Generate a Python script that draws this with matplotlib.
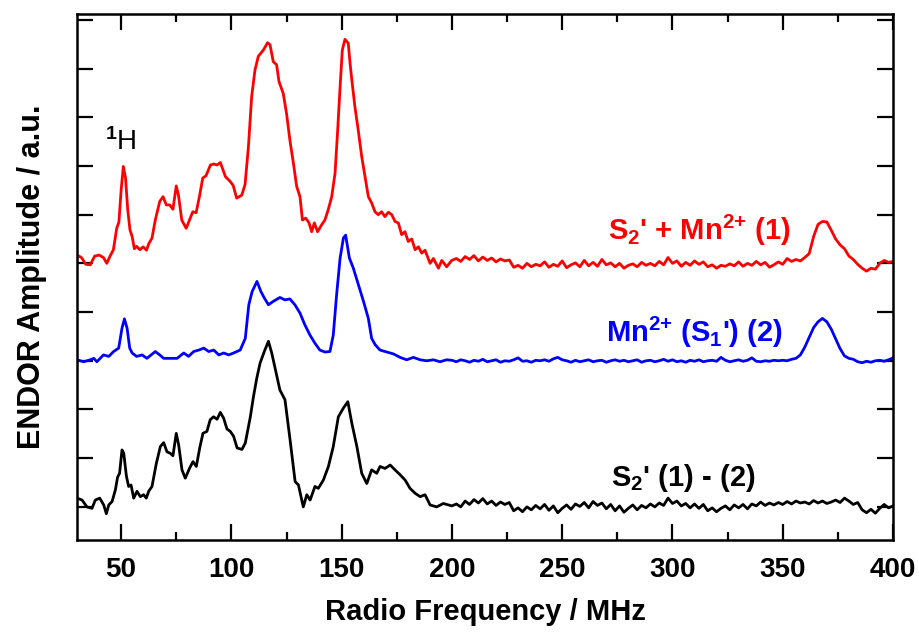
import matplotlib
matplotlib.use("Agg")
import matplotlib.pyplot as plt
from matplotlib.ticker import MultipleLocator

plt.rcParams['font.family'] = ['Liberation Sans', 'DejaVu Sans']
plt.rcParams['mathtext.fontset'] = 'custom'
plt.rcParams['mathtext.rm'] = 'Liberation Sans:bold'
plt.rcParams['mathtext.bf'] = 'Liberation Sans:bold'
plt.rcParams['mathtext.it'] = 'Liberation Sans:bold'

# ---------------- data ----------------
red_f = [30, 32, 34, 36, 38, 40, 42, 43.5, 45, 46.5, 48, 49, 50, 51, 52, 53, 54, 55, 56, 57,
         58.5, 60, 61.5, 62.5, 64, 65.5, 67.5, 69, 70.5, 72, 73.5, 75, 76, 77.5, 79.5, 81, 82.5,
         84, 85.5, 87, 88.5, 90.5, 92, 93.5, 95, 97.3, 99.3, 100.8, 102.4, 104.7, 106.2, 107.7,
         109.2, 110.7, 112.2, 114.5, 116.4, 117.5, 119, 120.5, 121.6, 123.5, 125, 126.5, 128.1,
         129.6, 131.1, 132.2, 133.7, 135.2, 136.4, 137.6, 139.1, 140.9, 142.4, 143.9, 145.5, 147,
         148.2, 149.3, 150.3, 151.5, 153, 153.8, 154.6, 156, 157.5, 159.1, 160.6, 162.1, 163.6,
         165.1, 166.6, 168.1, 169.6, 171.2, 172.7, 174.2, 175.7, 177.2, 178.7, 180.2, 181.8,
         183.3, 184.8, 186.3, 187.8, 190.1, 191.6, 193.9, 195.4, 197.6, 199.9,
         202, 204, 206, 208, 210, 212, 214, 216, 218, 220, 222, 224, 226, 228, 230, 232, 234, 236,
         238, 240, 242, 244, 246, 248, 250, 252, 254, 256, 258, 260, 262, 264, 266, 268, 270, 272,
         274, 276, 278, 280, 282, 284, 286, 288, 290, 292, 294, 296, 298, 300, 302, 304, 306, 308,
         310, 312, 314, 316, 318, 320, 322, 324, 326, 328, 330, 332, 334, 336, 338, 340, 342, 344,
         346, 348, 350, 352, 354, 356, 358, 360, 362, 364, 366, 368, 370, 372, 374, 376, 378, 380,
         382, 384, 386, 388, 390, 392, 394, 396, 398, 400]
red_y = [5.17, 5.12, 4.98, 4.97, 5.15, 5.17, 5.12, 5.00, 5.15, 5.28, 5.72, 5.85, 6.50, 6.99, 6.75,
         6.10, 5.69, 5.55, 5.30, 5.35, 5.28, 5.34, 5.27, 5.40, 5.52, 5.89, 6.27, 6.37, 6.20, 6.20,
         6.11, 6.59, 6.40, 5.89, 5.72, 5.89, 6.06, 6.04, 6.37, 6.75, 6.80, 7.02, 7.04, 7.02, 7.07,
         6.78, 6.69, 6.60, 6.34, 6.40, 6.62, 7.38, 8.43, 8.97, 9.25, 9.38, 9.53, 9.49, 9.14, 9.08,
         8.73, 8.49, 8.08, 7.54, 7.06, 6.58, 6.37, 5.89, 5.93, 5.83, 5.65, 5.83, 5.65, 5.79, 5.89,
         6.10, 6.37, 6.85, 7.74, 8.63, 9.38, 9.60, 9.52, 9.11, 8.77, 8.22, 7.74, 7.19, 6.78, 6.37,
         6.24, 6.06, 6.00, 6.06, 5.96, 6.05, 6.00, 5.86, 5.83, 5.59, 5.65, 5.45, 5.50, 5.28, 5.34,
         5.21, 5.27, 5.00, 5.10, 4.90, 5.06, 4.93, 5.06,
         5.10, 5.04, 5.14, 5.08, 5.16, 5.05, 5.13, 5.06, 5.11, 5.03, 5.09, 5.05, 5.07, 4.92, 4.96,
         4.90, 5.00, 4.93, 4.98, 4.95, 5.03, 4.92, 4.98, 4.94, 5.05, 4.91, 4.97, 5.01, 4.93, 5.06,
         4.95, 5.02, 4.94, 5.08, 4.97, 5.01, 4.93, 5.00, 4.90, 4.96, 4.99, 4.93, 5.02, 4.96, 5.00,
         4.95, 5.04, 4.97, 5.12, 5.00, 5.05, 4.94, 5.02, 4.96, 5.05, 4.98, 5.03, 4.93, 4.97, 4.90,
         4.96, 4.94, 4.99, 4.95, 5.03, 4.94, 5.00, 4.96, 5.04, 4.97, 5.02, 4.92, 4.97, 5.03, 4.98,
         5.10, 5.04, 5.08, 5.05, 5.12, 5.20, 5.55, 5.80, 5.86, 5.85, 5.68, 5.50, 5.38, 5.30, 5.15,
         5.08, 4.98, 4.90, 4.84, 4.90, 4.88, 5.00, 5.06, 5.02, 5.04]

blue_f = [30, 33, 36, 37.6, 39, 42, 44.4, 46.6, 48.9, 50.4, 51.5, 52.7, 53.9, 55, 57, 59.5, 61.7,
          63.6, 65.5, 67.5, 69.3, 72.3, 75.4, 78.4, 80.6, 82.9, 85.2, 87.5, 89.7, 92, 94.3, 96.5,
          98.8, 101, 104, 106.3, 107.9, 109.4, 111.6, 113.4, 114.8, 116.8, 119, 122, 124.3, 126.5,
          128.8, 131.1, 133.3, 135.6, 137.9, 140.1, 142.4, 144.7, 146.2, 147.7, 149.3, 150.8,
          151.8, 153.5, 155.3, 157.6, 159.9, 162.1, 163.6, 165.2, 167.4, 170.4, 173.5, 176.5,
          179.5, 182.5, 185.6, 188.6, 191.6, 194.6, 197.6,
          200, 202, 204, 206, 208, 210, 212, 214, 216, 218, 220, 222, 224, 226, 228, 230, 232, 234,
          236, 238, 240, 242, 244, 246, 248, 250, 252, 254, 256, 258, 260, 262, 264, 266, 268, 270,
          272, 274, 276, 278, 280, 282, 284, 286, 288, 290, 292, 294, 296, 298, 300, 302, 304, 306,
          308, 310, 312, 314, 316, 318, 320, 322, 324, 326, 328, 330, 332, 334, 336, 338, 340, 342,
          344, 346, 348, 350, 352, 354, 356, 358, 360, 362, 364, 366, 368, 370, 372, 374, 376, 378,
          380, 382, 384, 386, 388, 390, 392, 394, 396, 398, 400]
blue_y = [3.02, 2.98, 3.02, 3.05, 2.98, 3.12, 3.09, 3.19, 3.26, 3.67, 3.86, 3.67, 3.26, 3.16,
          3.09, 3.12, 3.05, 3.12, 3.19, 3.12, 3.05, 3.05, 3.05, 3.16, 3.09, 3.19, 3.22, 3.26, 3.19,
          3.22, 3.12, 3.16, 3.12, 3.16, 3.22, 3.46, 4.15, 4.42, 4.63, 4.42, 4.30, 4.15, 4.22, 4.30,
          4.25, 4.27, 4.15, 3.98, 3.74, 3.53, 3.36, 3.22, 3.18, 3.19, 3.53, 4.35, 5.11, 5.52, 5.58,
          5.11, 4.90, 4.56, 4.22, 3.87, 3.46, 3.33, 3.22, 3.18, 3.14, 3.07, 3.02, 3.07, 3.02, 3.00,
          3.02, 2.98, 3.02,
          3.01, 2.98, 3.02, 3.00, 2.97, 3.01, 2.99, 3.03, 2.98, 3.00, 3.02, 2.97, 3.00, 2.99, 3.02,
          3.06, 2.99, 3.00, 2.97, 3.01, 3.00, 3.02, 2.99, 3.04, 3.07, 3.02, 3.00, 2.97, 3.01, 2.98,
          3.00, 3.02, 2.98, 3.00, 3.01, 2.97, 3.00, 3.02, 2.99, 3.01, 2.98, 3.00, 3.02, 2.97, 3.00,
          3.01, 2.98, 3.00, 3.03, 2.99, 3.02, 2.98, 3.00, 2.97, 3.01, 2.99, 3.02, 2.98, 3.00, 3.01,
          2.99, 3.07, 3.01, 2.98, 3.00, 3.02, 2.99, 3.01, 3.06, 2.99, 2.98, 3.00, 2.99, 3.01, 3.00,
          3.01, 3.00, 3.03, 3.05, 3.12, 3.28, 3.48, 3.68, 3.80, 3.87, 3.80, 3.65, 3.45, 3.25, 3.10,
          3.05, 3.03, 2.98, 2.96, 2.99, 2.97, 3.00, 3.01, 2.99, 3.02, 3.06]

black_f = [30, 32.3, 34.5, 36.8, 38.3, 40.3, 42.1, 43.3, 44.4, 45.9, 47.4, 48.4, 49.3, 50.4, 51.2,
           52.4, 53.4, 54.5, 55.7, 57.2, 58.7, 60.2, 61.4, 62.5, 64, 66, 67.8, 69.3, 70.8, 72.3,
           73.5, 75, 76.1, 77.6, 79.1, 81.1, 82.6, 84.1, 85.6, 87.1, 88.9, 90.4, 91.9, 93.5, 95,
           96.5, 98, 99.5, 101, 102.6, 104.8, 106.3, 108.6, 110, 111.5, 113, 115, 116.8, 118.3,
           119.8, 122, 124.3, 126.6, 128.9, 130.4, 132.6, 134.2, 135.7, 137.9, 139.4, 141.7, 144,
           146.2, 148.5, 150.8, 152.8, 154.6, 156.9, 159.1, 161.4, 163.6, 165.9, 167.4, 169.7, 172,
           174.2, 176.5, 178.8, 181, 183.3, 185.6, 187.8, 190.1, 193.1, 196.1,
           200, 202, 204, 206, 208, 210, 212, 214, 216, 218, 220, 222, 224, 226, 228, 230, 232, 234,
           236, 238, 240, 242, 244, 246, 248, 250, 252, 254, 256, 258, 260, 262, 264, 266, 268, 270,
           272, 274, 276, 278, 280, 282, 284, 286, 288, 290, 292, 294, 296, 298, 300, 302, 304, 306,
           308, 310, 312, 314, 316, 318, 320, 322, 324, 326, 328, 330, 332, 334, 336, 338, 340, 342,
           344, 346, 348, 350, 352, 354, 356, 358, 360, 362, 364, 366, 368, 370, 372, 374, 376, 378,
           380, 382, 384, 386, 388, 390, 392, 394, 396, 398, 400]
black_y = [0.18, 0.14, 0.00, -0.03, 0.14, 0.18, 0.04, -0.14, 0.04, 0.11, 0.35, 0.61, 0.69, 1.17,
           1.10, 0.63, 0.42, 0.45, 0.18, 0.32, 0.21, 0.25, 0.18, 0.32, 0.42, 0.90, 1.24, 1.32, 1.13,
           1.10, 1.05, 1.51, 1.27, 0.76, 0.59, 0.80, 0.93, 0.83, 1.20, 1.51, 1.55, 1.79, 1.85, 1.80,
           1.94, 1.82, 1.60, 1.55, 1.45, 1.21, 1.18, 1.31, 1.85, 2.26, 2.64, 2.95, 3.20, 3.40, 3.16,
           2.85, 2.40, 2.20, 1.38, 0.52, 0.45, 0.00, 0.25, 0.14, 0.42, 0.38, 0.55, 0.83, 1.24, 1.85,
           2.03, 2.16, 1.72, 1.24, 0.69, 0.48, 0.76, 0.69, 0.83, 0.79, 0.86, 0.76, 0.66, 0.55, 0.38,
           0.28, 0.21, 0.25, 0.04, 0.00, 0.07,
           0.02, 0.06, 0.00, 0.12, 0.05, 0.15, 0.08, 0.17, 0.06, 0.12, 0.03, 0.10, 0.05, 0.09, -0.08,
           -0.02, -0.10, 0.00, -0.06, 0.03, -0.04, 0.05, -0.07, 0.02, -0.12, -0.03, 0.04, -0.05,
           0.06, 0.01, 0.09, -0.02, 0.11, 0.03, 0.08, -0.04, 0.05, -0.08, 0.02, -0.11, -0.03, 0.04,
           -0.06, 0.03, -0.02, 0.06, 0.00, 0.08, 0.03, 0.18, 0.07, 0.12, 0.02, 0.07, -0.02, 0.06,
           -0.03, 0.05, -0.08, -0.02, -0.10, -0.03, 0.02, -0.06, 0.04, -0.02, 0.05, -0.04, 0.06,
           0.02, 0.10, 0.03, 0.08, 0.04, 0.09, 0.05, 0.11, 0.06, 0.12, 0.08, 0.10, 0.06, 0.13, 0.08,
           0.12, 0.07, 0.10, 0.14, 0.09, 0.18, 0.12, 0.05, 0.09, -0.06, -0.12, -0.05, -0.13, -0.03,
           0.05, -0.02, 0.02]

x_ticks = [50, 100, 150, 200, 250, 300, 350, 400]
labels = {
    'red': r"S$_{2}$' + Mn$^{2{+}}$ (1)",
    'blue': r"Mn$^{2{+}}$ (S$_{1}$') (2)",
    'black': r"S$_{2}$' (1) - (2)",
    'h': r"$^{1}$H",
}

# ---------------- figure ----------------
fig = plt.figure(figsize=(9.19, 6.33), dpi=100)
ax = fig.add_axes([0.0838, 0.1469, 0.8879, 0.8310])

lw = 2.0
ax.plot(red_f, red_y, color='#ff0000', lw=lw)
ax.plot(blue_f, blue_y, color='#0000ff', lw=lw)
ax.plot(black_f, black_y, color='black', lw=lw)

ax.set_xlim(30, 400)
ax.set_ylim(-0.68, 10.12)
ax.set_xticks(x_ticks)
ax.xaxis.set_minor_locator(MultipleLocator(25))
ax.set_yticks(range(0, 11))
ax.set_yticklabels([])

for s in ax.spines.values():
    s.set_linewidth(1.8)

ax.tick_params(axis='x', which='major', direction='in', length=11.5, width=1.6,
               top=True, bottom=True, labelsize=20, pad=12)
ax.tick_params(axis='x', which='minor', direction='in', length=6, width=1.6,
               top=True, bottom=True)
ax.tick_params(axis='y', which='major', direction='in', length=11.5, width=1.6,
               left=True, right=True)
for t in ax.get_xticklabels():
    t.set_fontweight('bold')

ax.set_xlabel('Radio Frequency / MHz', fontsize=21, fontweight='bold', labelpad=11)
ax.set_ylabel('ENDOR Amplitude / a.u.', fontsize=22, fontweight='bold', labelpad=18)

ax.text(50, 7.33, labels['h'], fontsize=20, color='black', ha='center', va='baseline')
ax.text(353.4, 5.48, labels['red'], fontsize=21, fontweight='bold', color='#ff0000',
        ha='right', va='baseline')
ax.text(350.2, 3.39, labels['blue'], fontsize=21, fontweight='bold', color='#0000ff',
        ha='right', va='baseline')
ax.text(337.5, 0.42, labels['black'], fontsize=21, fontweight='bold', color='black',
        ha='right', va='baseline')

fig.savefig('out.png', dpi=100)
